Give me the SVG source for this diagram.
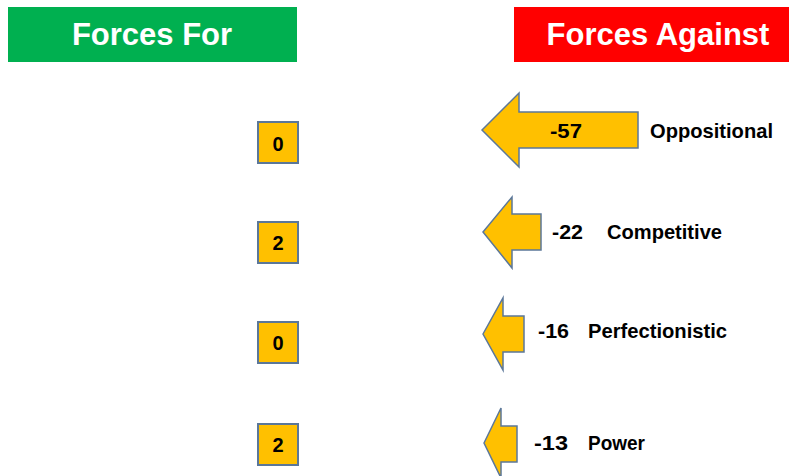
<svg xmlns="http://www.w3.org/2000/svg" width="789" height="476" viewBox="0 0 789 476">
<style>
.hdr{font-family:"Liberation Sans",Arial,sans-serif;font-weight:bold;font-size:31px;fill:#fff;text-anchor:middle}
.box{fill:#FFC000;stroke:#5B7799;stroke-width:2}
.arr{fill:#FFC000;stroke:#5B7799;stroke-width:1.5;stroke-linejoin:miter}
.num{font-family:"Liberation Sans",Arial,sans-serif;font-weight:bold;font-size:20px;fill:#000;text-anchor:middle}
.lbl{font-family:"Liberation Sans",Arial,sans-serif;font-weight:bold;font-size:21px;fill:#000}
</style>
<rect width="789" height="476" fill="#fff"/>
<g id="header-for">
<rect x="8" y="7" width="289" height="55" fill="#00B050"/>
<text class="hdr" x="152" y="45">Forces For</text>
</g>
<g id="header-against">
<rect x="514" y="7" width="280" height="55" fill="#FF0000"/>
<text class="hdr" x="658" y="45">Forces Against</text>
</g>
<g id="for-1"><rect class="box" x="258" y="122" width="40" height="41"/><text class="num" x="278" y="151">0</text></g>
<g id="for-2"><rect class="box" x="258" y="222" width="40" height="41"/><text class="num" x="278" y="250">2</text></g>
<g id="for-3"><rect class="box" x="258" y="322" width="40" height="41"/><text class="num" x="278" y="350">0</text></g>
<g id="for-4"><rect class="box" x="258" y="424" width="40" height="41"/><text class="num" x="278" y="452">2</text></g>
<g id="against-1">
<polygon class="arr" points="482,130 519,93 519,112 638,112 638,148 519,148 519,167"/>
<text class="lbl" x="550" y="138" textLength="32" lengthAdjust="spacingAndGlyphs">-57</text>
<text class="lbl" x="650" y="138" textLength="123" lengthAdjust="spacingAndGlyphs">Oppositional</text>
</g>
<g id="against-2">
<polygon class="arr" points="483,232 512,197 512,214 541,214 541,250 512,250 512,268"/>
<text class="lbl" x="552" y="239" textLength="31" lengthAdjust="spacingAndGlyphs">-22</text>
<text class="lbl" x="607" y="239" textLength="115" lengthAdjust="spacingAndGlyphs">Competitive</text>
</g>
<g id="against-3">
<polygon class="arr" points="483,334 503,298 503,316 524,316 524,352 503,352 503,370"/>
<text class="lbl" x="538" y="338" textLength="31" lengthAdjust="spacingAndGlyphs">-16</text>
<text class="lbl" x="588" y="338" textLength="139" lengthAdjust="spacingAndGlyphs">Perfectionistic</text>
</g>
<g id="against-4">
<polygon class="arr" points="484,443 501,408 501,426 517,426 517,462 501,462 501,478"/>
<text class="lbl" x="534" y="450" textLength="34" lengthAdjust="spacingAndGlyphs">-13</text>
<text class="lbl" x="588" y="450" textLength="57" lengthAdjust="spacingAndGlyphs">Power</text>
</g>
<g id="connectors"></g>
</svg>
